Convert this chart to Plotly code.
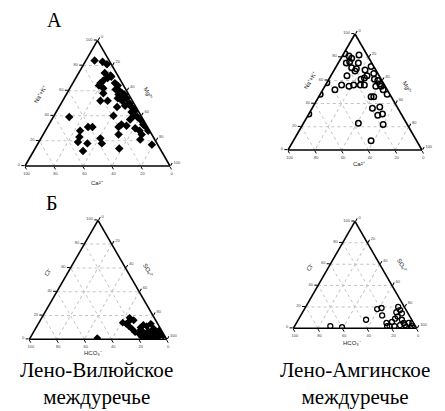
import plotly.graph_objects as go

# ---- data (percent), a = top apex, b = bottom-left, c = bottom-right ----
# Лено-Вилюйское, cations
lv_cat_a = [84, 83, 81, 74, 72, 71, 70, 68, 66, 64, 62, 66, 64, 61, 60, 58, 57, 57, 58, 52,
            52, 54, 52, 54, 50, 48, 47, 43, 40, 40, 39, 37, 37, 33, 32, 31, 33, 31, 28, 30,
            28, 25, 39, 31, 31, 28, 25, 21, 23, 22, 19, 18, 18, 17, 12, 14, 55, 47, 44]
lv_cat_b = [10, 5, 3, 8, 5, 5, 8, 12, 15, 17, 15, 5, 4, 7, 5, 4, 3, 7, 17, 22,
            17, 9, 7, 3, 3, 7, 3, 5, 19, 5, 3, 2, 9, 17, 14, 20, 2, 1, 1, 9,
            7, 7, 50, 41, 38, 48, 23, 10, 51, 37, 54, 48, 38, 4, 54, 28, 5, 13, 2]
lv_cat_c = [6, 12, 16, 18, 23, 24, 22, 20, 19, 19, 23, 29, 32, 32, 35, 38, 40, 36, 25, 26,
            31, 37, 41, 43, 47, 45, 50, 52, 41, 55, 58, 61, 54, 50, 54, 49, 65, 68, 71, 61,
            65, 68, 11, 28, 31, 24, 52, 69, 26, 41, 27, 34, 44, 79, 34, 58, 40, 40, 54]

# Лено-Амгинское, cations
la_cat_a = [83, 81, 79, 82, 76, 75, 71, 70, 68, 69, 72, 64, 61, 62, 66, 61, 60, 57, 55, 56,
            56, 56, 55, 56, 52, 52, 48, 46, 46, 36, 37, 30, 31, 23, 22, 8, 75, 64, 55, 58,
            48, 31]
la_cat_b = [16, 14, 13, 6, 16, 19, 17, 14, 16, 8, 2, 24, 15, 12, 3, 5, 3, 3, 7, 15,
            18, 23, 27, 32, 39, 3, 2, 15, 13, 19, 13, 18, 14, 36, 18, 34, 10, 9, 3, 42,
            52, 69]
la_cat_c = [1, 5, 8, 12, 8, 6, 12, 16, 16, 23, 26, 12, 24, 26, 31, 34, 37, 40, 38, 29,
            26, 21, 18, 12, 9, 45, 50, 39, 41, 45, 50, 52, 55, 41, 60, 58, 15, 27, 42, 0,
            0, 0]

# Лено-Вилюйское, anions
lv_an_a = [18, 16, 13, 14, 9, 11, 12, 11, 13, 9, 7, 6, 8, 6, 5, 2, 4, 5, 4, 2,
           2, 3, 1, 5, 1, 8, 6, 3, 7, 10, 4, 1, 15]
lv_an_b = [18, 16, 23, 25, 21, 22, 11, 9, 5, 5, 10, 14, 15, 4, 2, 5, 8, 10, 14, 14,
           17, 1, 8, 18, 50, 1, 20, 11, 7, 14, 3, 12, 20]
lv_an_c = [64, 68, 64, 61, 70, 67, 77, 80, 82, 86, 83, 80, 77, 90, 93, 93, 88, 85, 82, 84,
           81, 96, 91, 77, 49, 91, 74, 86, 86, 76, 93, 87, 65]

# Лено-Амгинское, anions
la_an_a = [18, 19, 12, 8, 2, 1, 20, 17, 15, 11, 9, 8, 6, 5, 2, 2, 3, 3, 5, 2,
           1, 5, 5, 14, 2, 0]
la_an_b = [23, 19, 22, 37, 69, 60, 5, 5, 9, 10, 13, 8, 17, 22, 21, 17, 12, 8, 4, 3,
           8, 8, 1, 5, 23, 5]
la_an_c = [59, 62, 66, 55, 29, 39, 75, 78, 76, 79, 78, 84, 77, 73, 77, 81, 85, 89, 91, 95,
           91, 87, 94, 81, 75, 95]

cat_labels = ["Na⁺+K⁺", "Mg²⁺", "Ca²⁺"]
an_labels = ["Cl⁻", "SO₄²⁻", "HCO₃⁻"]
panel_letters = ["А", "Б"]
captions = ["Лено-Вилюйское<br>междуречье", "Лено-Амгинское<br>междуречье"]

# page is 445x411 with the default 8px body margin around the figure
OFF = 8
W, H = 445 - OFF, 411 - OFF


def px(x, y):
    return (x - OFF) / W, 1 - (y - OFF) / H


fig = go.Figure()

fig.add_trace(go.Scatterternary(a=lv_cat_a, b=lv_cat_b, c=lv_cat_c, mode="markers",
                                subplot="ternary",
                                marker=dict(symbol="diamond", size=6.5, color="black"),
                                showlegend=False))
fig.add_trace(go.Scatterternary(a=la_cat_a, b=la_cat_b, c=la_cat_c, mode="markers",
                                subplot="ternary2",
                                marker=dict(symbol="circle-open", size=5.5, color="black",
                                            line=dict(width=1.5)),
                                showlegend=False))
fig.add_trace(go.Scatterternary(a=lv_an_a, b=lv_an_b, c=lv_an_c, mode="markers",
                                subplot="ternary3",
                                marker=dict(symbol="diamond", size=6, color="black"),
                                showlegend=False))
fig.add_trace(go.Scatterternary(a=la_an_a, b=la_an_b, c=la_an_c, mode="markers",
                                subplot="ternary4",
                                marker=dict(symbol="circle-open", size=5, color="black",
                                            line=dict(width=1.3)),
                                showlegend=False))


def axis():
    return dict(showline=True, linecolor="black", linewidth=1.6,
                showgrid=True, gridcolor="#c4c4c4", gridwidth=1, griddash="dot",
                ticks="outside", ticklen=3, tickcolor="black", tickwidth=1,
                dtick=20, tickfont=dict(size=4, color="#444", family="Liberation Sans"),
                title=dict(text=""))


def tern(x0, x1, ybot, ytop):
    xa, yb = px(x0, ybot)
    xb, yt = px(x1, ytop)
    return dict(domain=dict(x=[xa, xb], y=[yb, yt]),
                sum=100, bgcolor="white",
                aaxis=axis(), baxis=axis(), caxis=axis())


fig.update_layout(
    width=W, height=H, margin=dict(l=0, r=0, t=0, b=0),
    paper_bgcolor="white", plot_bgcolor="white",
    ternary=tern(25, 170, 166, 40.4),
    ternary2=tern(288, 422, 150, 34),
    ternary3=tern(29.3, 166.7, 339.3, 220.3),
    ternary4=tern(293.3, 416.7, 328.3, 221.4),
)

ann = []
lab_pos = [
    (cat_labels, [(40, 95), (148, 93), (97, 183)]),
    (cat_labels, [(310, 81), (407, 87), (359, 164)]),
    (an_labels, [(48, 272), (148, 270), (93, 353)]),
    (an_labels, [(310, 267), (402, 265), (352, 343)]),
]
for labels, pos in lab_pos:
    for lab, (x, y), ang in zip(labels, pos, [-60, 60, 0]):
        xx, yy = px(x, y)
        ann.append(dict(x=xx, y=yy, xref="paper", yref="paper", text=lab, showarrow=False,
                        xanchor="center", yanchor="middle", textangle=ang,
                        font=dict(size=6, color="#222", family="Liberation Sans")))

for letter, (x, y) in zip(panel_letters, [(54, 20), (51, 203)]):
    xx, yy = px(x, y)
    ann.append(dict(x=xx, y=yy, xref="paper", yref="paper", text=letter, showarrow=False,
                    xanchor="center", yanchor="middle",
                    font=dict(size=20, color="black", family="Liberation Serif")))

for cap, x in zip(captions, [96, 355]):
    xx, yy = px(x, 410)
    ann.append(dict(x=xx, y=yy, xref="paper", yref="paper", text=cap, showarrow=False,
                    xanchor="center", yanchor="bottom", borderpad=0,
                    font=dict(size=21, color="black", family="Liberation Serif")))

fig.update_layout(annotations=ann)
fig.write_html("out.html")
